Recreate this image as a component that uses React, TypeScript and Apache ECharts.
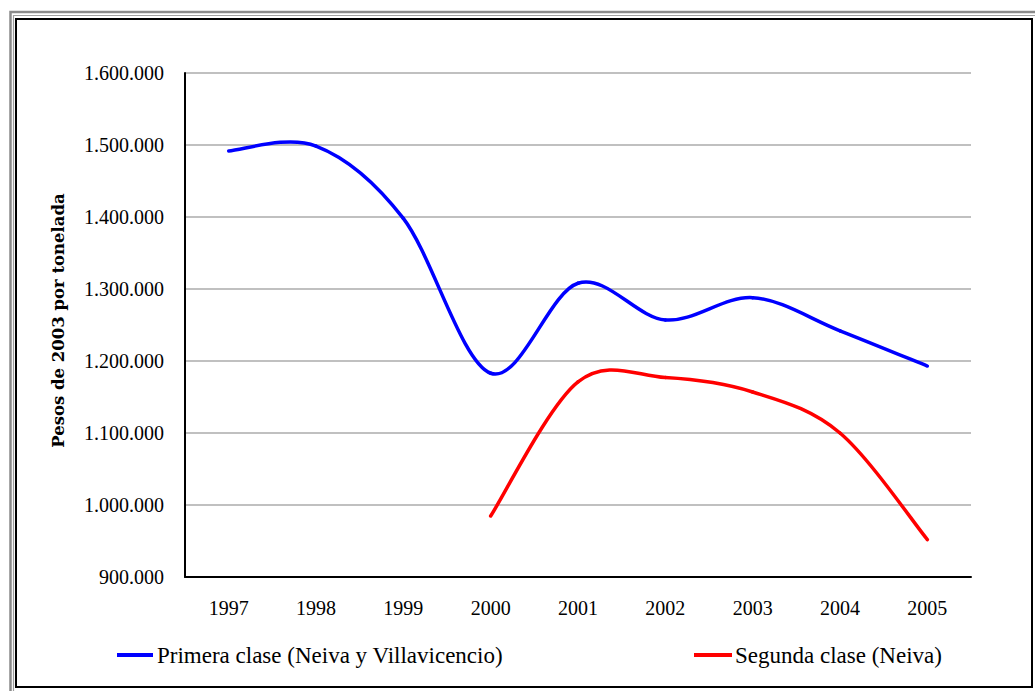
import React, { useEffect, useRef } from "react";
import * as echarts from "echarts";

const years = ["1997", "1998", "1999", "2000", "2001", "2002", "2003", "2004", "2005"];
const primeraName = "Primera clase (Neiva y Villavicencio)";
const segundaName = "Segunda clase (Neiva)";
const primera: (number | null)[] = [1491700, 1498600, 1398000, 1183000, 1308000, 1257000, 1288000, 1242000, 1193000];
const segunda: (number | null)[] = [null, null, null, 984700, 1171000, 1177000, 1157000, 1100000, 952000];
const yMin = 900000;
const yMax = 1600000;
const yStep = 100000;
const yTitle = "Pesos de 2003 por tonelada";

const serif = "Liberation Serif";
const blue = "#0000ff";
const red = "#ff0000";

function fmt(v: number): string {
  return String(Math.round(v)).replace(/\B(?=(\d{3})+(?!\d))/g, ".");
}

// Smooth (Catmull-Rom style) segment drawn through the chart's own coordinate system
function smoothSegment(values: (number | null)[], color: string) {
  return (params: any, api: any) => {
    const i = params.dataIndex;
    const v1 = values[i];
    const v2 = i + 1 < values.length ? values[i + 1] : null;
    if (v1 == null || v2 == null) return null;
    const p1 = api.coord([i, v1]);
    const p2 = api.coord([i + 1, v2]);
    const v0 = i - 1 >= 0 ? values[i - 1] : null;
    const v3 = i + 2 < values.length ? values[i + 2] : null;
    const p0 = v0 != null ? api.coord([i - 1, v0]) : p1;
    const p3 = v3 != null ? api.coord([i + 2, v3]) : p2;
    const k = 1 / 6;
    return {
      type: "bezierCurve",
      shape: {
        x1: p1[0],
        y1: p1[1],
        x2: p2[0],
        y2: p2[1],
        cpx1: p1[0] + (p2[0] - p0[0]) * k,
        cpy1: p1[1] + (p2[1] - p0[1]) * k,
        cpx2: p2[0] - (p3[0] - p1[0]) * k,
        cpy2: p2[1] - (p3[1] - p1[1]) * k,
      },
      style: { fill: "none", stroke: color, lineWidth: 3.5, lineCap: "round" },
    };
  };
}

export default function App() {
  const ref = useRef<HTMLDivElement>(null);
  useEffect(() => {
    if (!ref.current) return;
    const chart = echarts.init(ref.current, null, { renderer: "svg" });
    const legendText = (x: number, text: string) => ({
      type: "text",
      x,
      y: 655,
      silent: true,
      style: {
        text,
        fontFamily: serif,
        fontSize: 23,
        fill: "#000",
        verticalAlign: "middle",
        align: "left",
      },
    });
    chart.setOption({
      animation: false,
      backgroundColor: "#ffffff",
      textStyle: { fontFamily: serif, color: "#000" },
      grid: { left: 185, right: 64, top: 73, bottom: 114, containLabel: false },
      graphic: [
        { type: "rect", shape: { x: 10.5, y: 12, width: 1040, height: 690 }, style: { fill: "none", stroke: "#8a8a8a", lineWidth: 2.5 }, silent: true },
        { type: "rect", shape: { x: 13.5, y: 15.5, width: 1040, height: 690 }, style: { fill: "none", stroke: "#a0a0a0", lineWidth: 1.2 }, silent: true },
        { type: "rect", shape: { x: 16, y: 19, width: 1016, height: 668 }, style: { fill: "none", stroke: "#000000", lineWidth: 2 }, silent: true },
        { type: "rect", shape: { x: 117, y: 653, width: 36, height: 4 }, style: { fill: blue }, silent: true },
        legendText(157, primeraName),
        { type: "rect", shape: { x: 694, y: 653, width: 38, height: 4 }, style: { fill: red }, silent: true },
        legendText(735, segundaName),
      ],
      xAxis: {
        type: "category",
        data: years,
        boundaryGap: true,
        axisLine: { show: true, lineStyle: { color: "#000", width: 2 } },
        axisTick: { show: false },
        axisLabel: { margin: 21, fontFamily: serif, fontSize: 20, color: "#000" },
        splitLine: { show: false },
      },
      yAxis: {
        type: "value",
        min: yMin,
        max: yMax,
        interval: yStep,
        name: yTitle,
        nameLocation: "middle",
        nameGap: 118,
        nameTextStyle: { fontFamily: "DejaVu Serif", fontWeight: "bold", fontSize: 16.5, color: "#000", padding: [0, 0, 0, 9] },
        axisLine: { show: true, lineStyle: { color: "#000", width: 2 } },
        axisTick: { show: false },
        axisLabel: { margin: 21, fontFamily: serif, fontSize: 20, color: "#000", formatter: (v: number) => fmt(v) },
        splitLine: { show: true, lineStyle: { color: "#c0c0c0", width: 2 } },
      },
      series: [
        {
          name: primeraName,
          type: "custom",
          coordinateSystem: "cartesian2d",
          data: primera.map((v, i) => [i, v]),
          encode: { x: 0, y: 1 },
          renderItem: smoothSegment(primera, blue),
          itemStyle: { color: blue },
        },
        {
          name: segundaName,
          type: "custom",
          coordinateSystem: "cartesian2d",
          data: segunda.map((v, i) => [i, v == null ? "-" : v]),
          encode: { x: 0, y: 1 },
          renderItem: smoothSegment(segunda, red),
          itemStyle: { color: red },
        },
      ],
    });
    return () => chart.dispose();
  }, []);
  return (
    <div
      ref={ref}
      style={{ position: "fixed", left: 0, top: 0, width: 1035, height: 691, background: "#fff" }}
    />
  );
}
